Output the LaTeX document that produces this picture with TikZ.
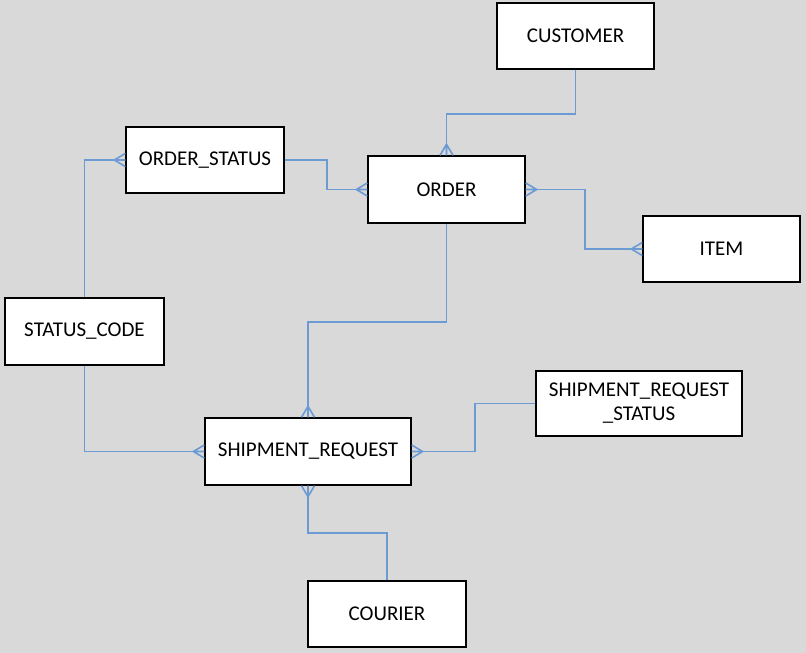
\documentclass[tikz,border=0pt]{standalone}
\usepackage{fontspec}
\setmainfont{Carlito}
\usetikzlibrary{calc}
\definecolor{bgc}{RGB}{217,217,217}
\definecolor{linec}{RGB}{108,155,212}
\tikzset{
  entity/.style={draw=black, line width=1.4pt, fill=white, inner sep=0pt,
    font=\fontsize{21}{24}\selectfont, text=black, align=center},
  conn/.style={draw=linec, line width=1.6pt},
}
\newcommand\crowft[2]{%
  \draw[conn] ($(#1)+(#2+90:6.5pt)$) -- ($(#1)+(#2:11pt)$) -- ($(#1)+(#2-90:6.5pt)$)
              ($(#1)+(#2:11pt)$) -- (#1);}
\begin{document}
\begin{tikzpicture}[x=1pt,y=-1pt]
\useasboundingbox (0,0) rectangle (806,653);
\fill[bgc] (0,0) rectangle (806,653);

\node[entity, minimum width=157, minimum height=66] (cust) at (575.5,36) {\raisebox{-1.5pt}{CUSTOMER}};
\node[entity, minimum width=157, minimum height=67] (ord) at (446.5,189.5) {\raisebox{-1.5pt}{ORDER}};
\node[entity, minimum width=158, minimum height=66] (os) at (205,160) {\raisebox{-1.5pt}{ORDER\_STATUS}};
\node[entity, minimum width=157, minimum height=66] (item) at (721.5,249) {\raisebox{-1.5pt}{ITEM}};
\node[entity, minimum width=159, minimum height=67] (sc) at (84.5,331.5) {\raisebox{-1.5pt}{STATUS\_CODE}};
\node[entity, minimum width=206, minimum height=67] (sr) at (308,451.5) {\raisebox{-1.5pt}{SHIPMENT\_REQUEST}};
\node[entity, minimum width=206, minimum height=65] (srs) at (639,403.5) {SHIPMENT\_REQUEST\\\_STATUS};
\node[entity, minimum width=158, minimum height=66] (cour) at (387,614) {\raisebox{-1.5pt}{COURIER}};

% connectors
\draw[conn] (cust.south) -- ++(0,44) -| (ord.north);
\draw[conn] (os.east) -- ++(42,0) |- (ord.west);
\draw[conn] (ord.east) -- ++(59,0) |- (item.west);
\draw[conn] (ord.south) -- ++(0,98) -| (sr.north);
\draw[conn] (sc.north) |- (os.west);
\draw[conn] (sc.south) |- (sr.west);
\draw[conn] (sr.east) -- ++(63,0) |- (srs.west);
\draw[conn] (sr.south) -- ++(0,47) -| (cour.north);

% crow's feet
\crowft{ord.north}{90}
\crowft{ord.west}{180}
\crowft{ord.east}{0}
\crowft{item.west}{180}
\crowft{os.west}{180}
\crowft{sr.north}{90}
\crowft{sr.west}{180}
\crowft{sr.east}{0}
\crowft{sr.south}{270}
\end{tikzpicture}
\end{document}
